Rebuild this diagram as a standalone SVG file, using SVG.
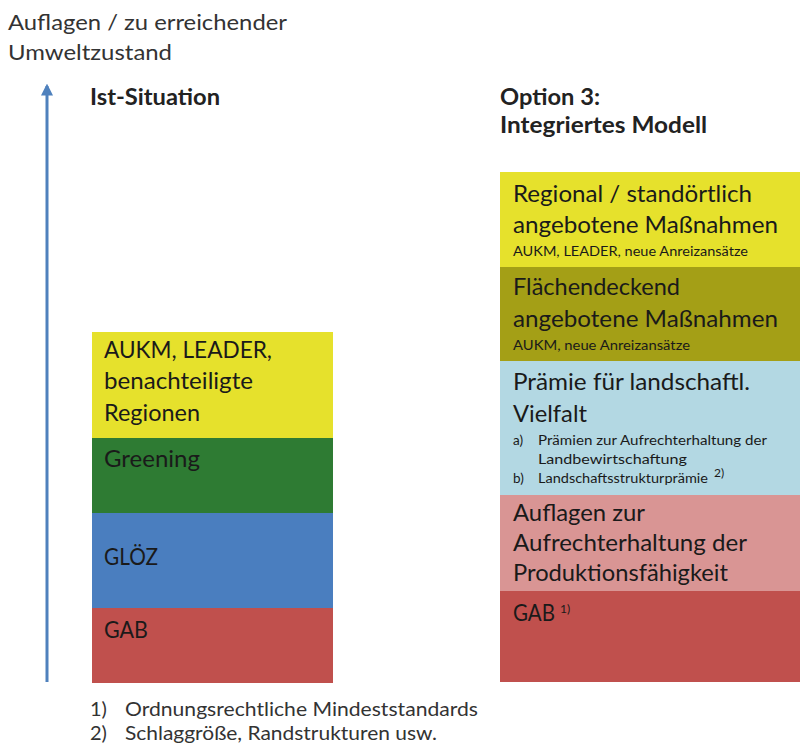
<svg xmlns="http://www.w3.org/2000/svg" width="800" height="746" viewBox="0 0 800 746">
<defs>
<style>
text{font-family:Lato,"Open Sans","Liberation Sans",sans-serif;fill:#1a1a1a}
.big{font-size:23px}
.hd{font-size:23px;font-weight:bold;fill:#222}
.sm{font-size:13.5px}
.xs{font-size:13.5px}
.ax{font-size:21.5px;fill:#333}
.fn{font-size:20px;fill:#333}
.sup{font-size:12px}
</style>
<marker id="ah" viewBox="0 0 10 10" refX="8" refY="5" markerWidth="4" markerHeight="4" orient="auto">
<path d="M0,0 L10,5 L0,10 z" fill="#4F81BD"/>
</marker>
</defs>
<rect width="800" height="746" fill="#fff"/>
<g id="connectors">
<line x1="47" y1="682" x2="47" y2="86" stroke="#4F81BD" stroke-width="3" marker-end="url(#ah)"/>
</g>
<g id="axis-label">
<text class="ax" x="8" y="30" textLength="279" lengthAdjust="spacingAndGlyphs">Auflagen / zu erreichender</text>
<text class="ax" x="8" y="60" textLength="164" lengthAdjust="spacingAndGlyphs">Umweltzustand</text>
</g>
<g id="title-ist"><text class="hd" x="90" y="105" textLength="130" lengthAdjust="spacingAndGlyphs">Ist-Situation</text></g>
<g id="title-opt"><text class="hd" x="500" y="105" textLength="100" lengthAdjust="spacingAndGlyphs">Option 3:</text><text class="hd" x="500" y="133" textLength="207" lengthAdjust="spacingAndGlyphs">Integriertes Modell</text></g>
<g id="ist-aukm">
<rect x="92" y="332" width="241" height="106" fill="#E6E12C"/>
<text class="big" x="104" y="358" textLength="168" lengthAdjust="spacingAndGlyphs">AUKM, LEADER,</text>
<text class="big" x="104" y="389" textLength="149" lengthAdjust="spacingAndGlyphs">benachteiligte</text>
<text class="big" x="104" y="421" textLength="96" lengthAdjust="spacingAndGlyphs">Regionen</text>
</g>
<g id="ist-greening">
<rect x="92" y="438" width="241" height="75" fill="#2E7B33"/>
<text class="big" x="104" y="467" textLength="96" lengthAdjust="spacingAndGlyphs">Greening</text>
</g>
<g id="ist-gloez">
<rect x="92" y="513" width="241" height="95" fill="#4A7EBF"/>
<text class="big" x="104" y="565" textLength="54" lengthAdjust="spacingAndGlyphs">GLÖZ</text>
</g>
<g id="ist-gab">
<rect x="92" y="608" width="241" height="75" fill="#C0504D"/>
<text class="big" x="104" y="638" textLength="44" lengthAdjust="spacingAndGlyphs">GAB</text>
</g>
<g id="opt-regional">
<rect x="500" y="172" width="300" height="95" fill="#E6E12C"/>
<text class="big" x="513" y="202" textLength="239" lengthAdjust="spacingAndGlyphs">Regional / standörtlich</text>
<text class="big" x="513" y="233" textLength="265" lengthAdjust="spacingAndGlyphs">angebotene Maßnahmen</text>
<text class="sm" x="513" y="256" textLength="235" lengthAdjust="spacingAndGlyphs">AUKM, LEADER, neue Anreizansätze</text>
</g>
<g id="opt-flaeche">
<rect x="500" y="267" width="300" height="94" fill="#A49F16"/>
<text class="big" x="513" y="295" textLength="167" lengthAdjust="spacingAndGlyphs">Flächendeckend</text>
<text class="big" x="513" y="327" textLength="265" lengthAdjust="spacingAndGlyphs">angebotene Maßnahmen</text>
<text class="sm" x="513" y="350" textLength="177" lengthAdjust="spacingAndGlyphs">AUKM, neue Anreizansätze</text>
</g>
<g id="opt-praemie">
<rect x="500" y="361" width="300" height="134" fill="#B3D8E3"/>
<text class="big" x="513" y="390" textLength="237" lengthAdjust="spacingAndGlyphs">Prämie für landschaftl.</text>
<text class="big" x="513" y="422" textLength="74" lengthAdjust="spacingAndGlyphs">Vielfalt</text>
<text class="xs" x="513" y="445">a)</text>
<text class="xs" x="538" y="445" textLength="229" lengthAdjust="spacingAndGlyphs">Prämien zur Aufrechterhaltung der</text>
<text class="xs" x="538" y="464" textLength="149" lengthAdjust="spacingAndGlyphs">Landbewirtschaftung</text>
<text class="xs" x="513" y="483">b)</text>
<text class="xs" x="538" y="483" textLength="170" lengthAdjust="spacingAndGlyphs">Landschaftsstrukturprämie</text>
<text class="sup" x="714" y="477">2)</text>
</g>
<g id="opt-auflagen">
<rect x="500" y="495" width="300" height="96" fill="#D99594"/>
<text class="big" x="513" y="521" textLength="132" lengthAdjust="spacingAndGlyphs">Auflagen zur</text>
<text class="big" x="513" y="551" textLength="234" lengthAdjust="spacingAndGlyphs">Aufrechterhaltung der</text>
<text class="big" x="513" y="581" textLength="215" lengthAdjust="spacingAndGlyphs">Produktionsfähigkeit</text>
</g>
<g id="opt-gab">
<rect x="500" y="591" width="300" height="91" fill="#C0504D"/>
<text class="big" x="513" y="621" textLength="42" lengthAdjust="spacingAndGlyphs">GAB</text>
<text class="sup" x="560" y="613">1)</text>
</g>
<g id="footnotes">
<text class="fn" x="90" y="716">1)</text>
<text class="fn" x="125" y="716" textLength="353" lengthAdjust="spacingAndGlyphs">Ordnungsrechtliche Mindeststandards</text>
<text class="fn" x="90" y="740">2)</text>
<text class="fn" x="125" y="740" textLength="312" lengthAdjust="spacingAndGlyphs">Schlaggröße, Randstrukturen usw.</text>
</g>
</svg>
